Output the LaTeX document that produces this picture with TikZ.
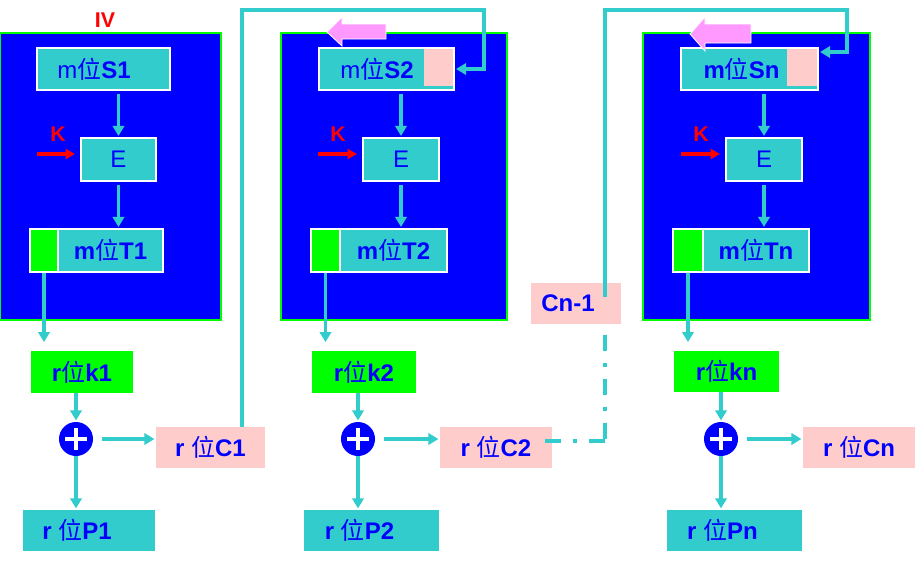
\documentclass[tikz,border=0pt]{standalone}
\usepackage{fontspec}
\setmainfont{Liberation Sans}
\newfontfamily\cjk{Noto Sans CJK SC}
\usetikzlibrary{arrows.meta,calc}
\newcommand\wei{{\cjk\mdseries 位}}
\definecolor{myblue}{HTML}{0000FF}
\definecolor{mycyan}{HTML}{33CCCC}
\definecolor{mygreen}{HTML}{00FF00}
\definecolor{mypink}{HTML}{FFCCCC}
\definecolor{myviolet}{HTML}{FF99FF}
\definecolor{myred}{HTML}{FF0000}
\begin{document}
\begin{tikzpicture}[x=0.75pt,y=-0.75pt,
  every node/.style={font=\fontsize{18pt}{20pt}\selectfont, text=myblue, inner sep=0pt},
  bx/.style n args={4}{rectangle, minimum width={(#3-#1)*0.75pt}, minimum height={(#4-#2)*0.75pt},
    at={({(#1+#3)/2},{(#2+#4)/2})}},
  blk/.style={draw=mygreen, fill=myblue, line width=1.1pt},
  inbox/.style={draw=white, fill=mycyan, line width=1.1pt},
  gbox/.style={draw=white, fill=mygreen, line width=1.1pt},
  kbox/.style={fill=mygreen},
  pbox/.style={fill=mycyan},
  cbox/.style={fill=mypink},
  oplus/.style={circle, fill=myblue, minimum size=25.5pt,
    path picture={\draw[white, line width=3.6pt]
      ($(path picture bounding box.center)+(-7.9pt,0pt)$) -- ++(15.8pt,0pt)
      ($(path picture bounding box.center)+(0pt,-7.9pt)$) -- ++(0pt,15.8pt);}},
  arr/.style={draw=mycyan, line width=2.9pt, -{Triangle[length=7.5pt,width=8.5pt]}, shorten >=1pt},
  karr/.style={draw=myred, line width=2.3pt, -{Triangle[length=7pt,width=7.5pt]}, shorten >=4pt},
  klab/.style={text=myred, font=\fontsize{16pt}{18pt}\selectfont\bfseries},
  dd/.style={draw=mycyan, line width=2.9pt, dash pattern=on 12pt off 9pt on 3pt off 9pt},
  parrow/.style={fill=myviolet, draw=white, line width=0.6pt}
]
\useasboundingbox[fill=white] (0,0) rectangle (918,562);

% blocks
\node[blk, bx={0}{33}{221}{320}] (B1) {};
\node[blk, bx={281}{33}{507}{320}] (B2) {};
\node[blk, bx={643}{33}{870}{320}] (B3) {};

\node[klab] (IV) at (105,20) {IV};

% S boxes
\node[inbox, bx={37}{48}{170}{90}] (S1) {m\wei\textbf{S1}\hspace*{14pt}};
\node[inbox, bx={319}{48}{454}{90}] (S2) {m\wei\textbf{S2}\hspace*{14pt}};
\node[cbox, bx={424}{49}{453}{86}] (S2p) {};
\node[inbox, bx={681}{48}{818}{90}] (Sn) {\textbf{m}\wei\textbf{Sn}\hspace*{12pt}};
\node[cbox, bx={787}{49}{817}{86}] (Snp) {};

% pink arrows
\path[parrow] (327,32) -- (342,17) -- (342,24) -- (386,24) -- (386,39) -- (342,39) -- (342,46) -- cycle;
\path[parrow] (690,34) -- (705,17) -- (705,24) -- (751,24) -- (751,43) -- (705,43) -- (705,51) -- cycle;

% E boxes
\node[inbox, bx={81}{138}{156}{181}] (E1) {E};
\node[inbox, bx={363}{138}{439}{181}] (E2) {E};
\node[inbox, bx={726}{138}{802}{181}] (E3) {E};

% K labels
\node[klab] (K1) at (58,134) {K};
\node[klab] (K2) at (338,134) {K};
\node[klab] (K3) at (701,134) {K};
\coordinate (kk1) at (37,154);
\coordinate (kk2) at (318,154);
\coordinate (kk3) at (681,154);

% T boxes
\node[gbox, bx={30}{229}{58}{272}] (T1g) {};
\node[inbox, bx={58}{229}{163}{272}] (T1) {\textbf{m}\wei\textbf{T1}};
\node[gbox, bx={311}{229}{340}{272}] (T2g) {};
\node[inbox, bx={340}{229}{447}{272}] (T2) {\textbf{m}\wei\textbf{T2}};
\node[gbox, bx={673}{229}{703}{272}] (Tng) {};
\node[inbox, bx={703}{229}{809}{272}] (Tn) {\textbf{m}\wei\textbf{Tn}};

% bottom
\node[kbox, bx={31}{351}{133}{393}] (k1) {\textbf{r}\wei\textbf{k1}};
\node[kbox, bx={312}{351}{416}{393}] (k2) {\textbf{r}\wei\textbf{k2}};
\node[kbox, bx={674}{351}{779}{392}] (kn) {\textbf{r}\wei\textbf{kn}};

\node[oplus] (o1) at (76,439) {};
\node[oplus] (o2) at (358,439) {};
\node[oplus] (o3) at (721,439) {};

\node[cbox, bx={156}{427}{265}{468}] (C1) {\textbf{r }\wei\textbf{C1}};
\node[cbox, bx={440}{427}{552}{468}] (C2) {\textbf{r }\wei\textbf{C2}};
\node[cbox, bx={803}{427}{915}{468}] (Cn) {\textbf{r }\wei\textbf{Cn}};

\node[pbox, bx={23}{510}{155}{551}] (P1) {\textbf{r }\wei\textbf{P1}\hspace*{18pt}};
\node[pbox, bx={304}{510}{439}{551}] (P2) {\textbf{r }\wei\textbf{P2}\hspace*{18pt}};
\node[pbox, bx={667}{510}{802}{551}] (Pn) {\textbf{r }\wei\textbf{Pn}\hspace*{18pt}};

\node[cbox, bx={531}{283}{621}{324}] (Cn1) {\textbf{Cn-1}\hspace*{12pt}};

% arrows, block 1
\draw[arr, shorten <=2.2pt] (E1.north |- S1.south) -- (E1.north);
\draw[arr, shorten <=2.2pt] (E1.south) -- (E1.south |- T1.north);
\draw[karr] (kk1) -- (kk1 -| E1.west);
\draw[arr, shorten >=6.5pt] (T1g.south) -- (T1g.south |- k1.north);
\draw[arr] (k1.south -| o1.north) -- (o1.north);
\draw[arr] (o1.south) -- (o1.south |- P1.north);
\draw[arr, shorten <=6.5pt] (o1.east) -- (o1.east -| C1.west);
% arrows, block 2
\draw[arr, shorten <=2.2pt] (E2.north |- S2.south) -- (E2.north);
\draw[arr, shorten <=2.2pt] (E2.south) -- (E2.south |- T2.north);
\draw[karr] (kk2) -- (kk2 -| E2.west);
\draw[arr, shorten >=6.5pt] (T2g.south) -- (T2g.south |- k2.north);
\draw[arr] (k2.south -| o2.north) -- (o2.north);
\draw[arr] (o2.south) -- (o2.south |- P2.north);
\draw[arr, shorten <=6.5pt] (o2.east) -- (o2.east -| C2.west);
% arrows, block 3
\draw[arr, shorten <=2.2pt] (E3.north |- Sn.south) -- (E3.north);
\draw[arr, shorten <=2.2pt] (E3.south) -- (E3.south |- Tn.north);
\draw[karr] (kk3) -- (kk3 -| E3.west);
\draw[arr, shorten >=6.5pt] (Tng.south) -- (Tng.south |- kn.north);
\draw[arr] (kn.south -| o3.north) -- (o3.north);
\draw[arr] (o3.south) -- (o3.south |- Pn.north);
\draw[arr, shorten <=6.5pt] (o3.east) -- (o3.east -| Cn.west);

% feedback lines
\coordinate (t1) at (242,10);
\coordinate (t1r) at (484,10);
\draw[arr] (C1.north -| t1) -- (t1) -- (t1r) |- (S2.east);
\coordinate (cnx) at (605,297);
\coordinate (t2r) at (847,10);
\draw[arr] (cnx) |- (t2r) |- ([yshift=12.75pt]Sn.east);
\coordinate (ddc) at (605,335);
\coordinate (ddk) at (605,441);
\draw[dd] (ddc) -- (ddk);
\draw[dd] (ddk) -- ($(C2.east)+(-7,-6.5)$);
\end{tikzpicture}
\end{document}
